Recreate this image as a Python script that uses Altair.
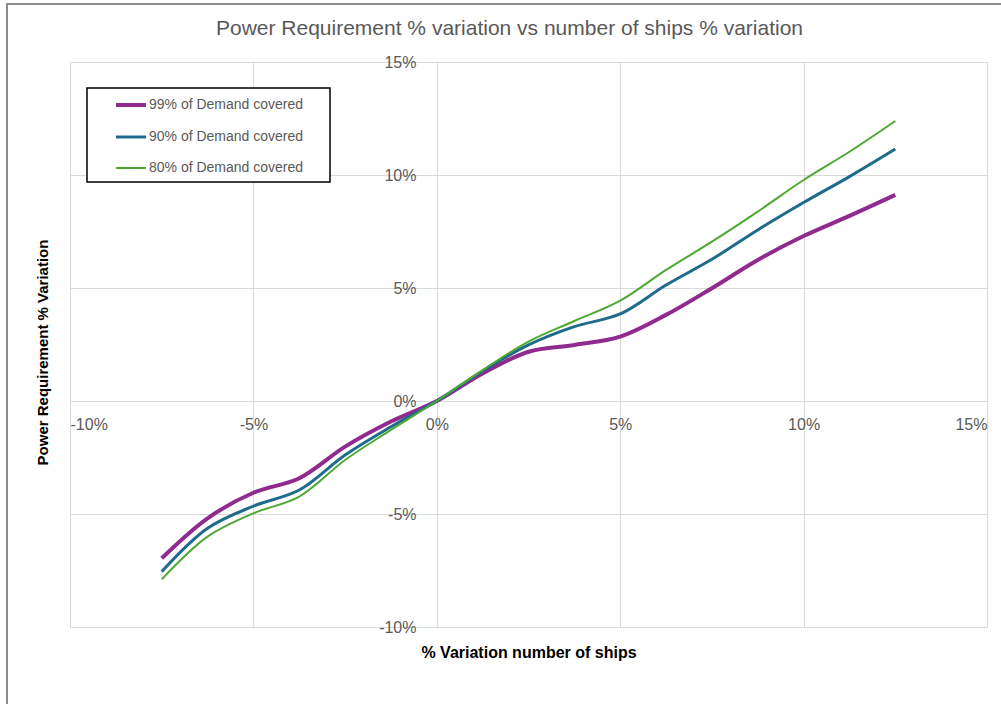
import altair as alt
import pandas as pd

# ---- data (curves read every 1.25 %) ----
ship_variation = [-7.5, -6.25, -5.0, -3.75, -2.5, -1.25, 0.0, 1.25, 2.5,
                  3.75, 5.0, 6.25, 7.5, 8.75, 10.0, 11.25, 12.5]
series_names = ["99% of Demand covered", "90% of Demand covered", "80% of Demand covered"]
power_99 = [-6.96, -5.19, -4.06, -3.42, -2.02, -0.91, 0.0, 1.22, 2.18,
            2.48, 2.85, 3.81, 4.99, 6.24, 7.30, 8.19, 9.12]
power_90 = [-7.55, -5.63, -4.65, -3.94, -2.39, -1.14, 0.0, 1.33, 2.48,
            3.29, 3.85, 5.13, 6.27, 7.57, 8.78, 9.93, 11.15]
power_80 = [-7.89, -6.00, -4.97, -4.23, -2.61, -1.28, 0.0, 1.37, 2.63,
            3.54, 4.44, 5.80, 7.05, 8.38, 9.78, 11.03, 12.39]
x_ticks = [-10, -5, 0, 5, 10, 15]
y_ticks = [-10, -5, 0, 5, 10, 15]
colors = ["#912a8e", "#1f6b8c", "#4fa832"]
widths = [4, 2, 2]

rows = []
for name, vals in zip(series_names, [power_99, power_90, power_80]):
    for i, (x, y) in enumerate(zip(ship_variation, vals)):
        rows.append({"series": name, "x": x, "y": y, "order": i})
df = pd.DataFrame(rows)

W, H = 917, 565
label_expr = "(datum.value < 0 ? '-' : '') + abs(datum.value) + '%'"
grey = "#595959"

x_scale = alt.Scale(domain=[-10, 15], nice=False, zero=False)
y_scale = alt.Scale(domain=[-10, 15], nice=False, zero=False)

lines = alt.Chart(df).mark_line(interpolate="catmull-rom").encode(
    x=alt.X(
        "x:Q",
        scale=x_scale,
        axis=alt.Axis(
            values=x_ticks,
            labelExpr=label_expr,
            title="% Variation number of ships",
            offset=-226,
            grid=True,
            gridColor="#d9d9d9",
            domain=False,
            ticks=False,
            labelPadding=15,
            labelColor=grey,
            labelFontSize=16,
            labelFont="Liberation Sans",
            titleFont="Liberation Sans",
            titleFontSize=16,
            titleFontWeight="bold",
            titleColor="black",
            titleBaseline="middle",
            titleY=251,
        ),
    ),
    y=alt.Y(
        "y:Q",
        scale=y_scale,
        axis=alt.Axis(
            values=y_ticks,
            labelExpr=label_expr,
            title="Power Requirement % Variation",
            offset=-367,
            grid=True,
            gridColor="#d9d9d9",
            domain=False,
            ticks=False,
            labelPadding=21,
            labelColor=grey,
            labelFontSize=16,
            labelFont="Liberation Sans",
            titleFont="Liberation Sans",
            titleFontSize=15,
            titleFontWeight="bold",
            titleColor="black",
            titleBaseline="middle",
            titleX=-395,
            titleY=290,
        ),
    ),
    color=alt.Color(
        "series:N",
        scale=alt.Scale(domain=series_names, range=colors),
        legend=alt.Legend(title=None),
    ),
    strokeWidth=alt.StrokeWidth(
        "series:N",
        scale=alt.Scale(domain=series_names, range=widths),
        legend=alt.Legend(title=None),
    ),
    order="order:Q",
    detail="series:N",
)

one_row = pd.DataFrame({"a": [0]})

# outer chart-area border (decoration)
frame = alt.Chart(one_row).mark_rect(
    fill="transparent", stroke="#8c8c8c", strokeWidth=2
).encode(
    x=alt.value(-63), x2=alt.value(1000), y=alt.value(-58), y2=alt.value(700)
)

# legend box (decoration)
legend_box = alt.Chart(one_row).mark_rect(
    fill="white", stroke="black", strokeWidth=1.5
).encode(
    x=alt.value(17), x2=alt.value(260), y=alt.value(26), y2=alt.value(120)
)

chart = alt.layer(frame, legend_box, lines).properties(
    width=W,
    height=H,
    title=alt.TitleParams(
        "Power Requirement % variation vs number of ships % variation",
        font="Liberation Sans",
        fontSize=21,
        fontWeight="normal",
        color=grey,
        anchor="middle",
        offset=-35.5,
        dx=-19,
    ),
    autosize=alt.AutoSizeParams(type="none"),
    padding={"left": 70, "top": 62, "right": 14, "bottom": 77},
).configure_view(stroke=None).configure_legend(
    orient="none",
    legendX=17,
    legendY=26,
    padding=0,
    symbolType="stroke",
    symbolSize=900,
    symbolOffset=27,
    labelFont="Liberation Sans",
    labelFontSize=14,
    labelColor=grey,
    labelOffset=1,
    rowPadding=7.5,
)

chart.save("out.html", embed_options={"renderer": "svg", "actions": False})
